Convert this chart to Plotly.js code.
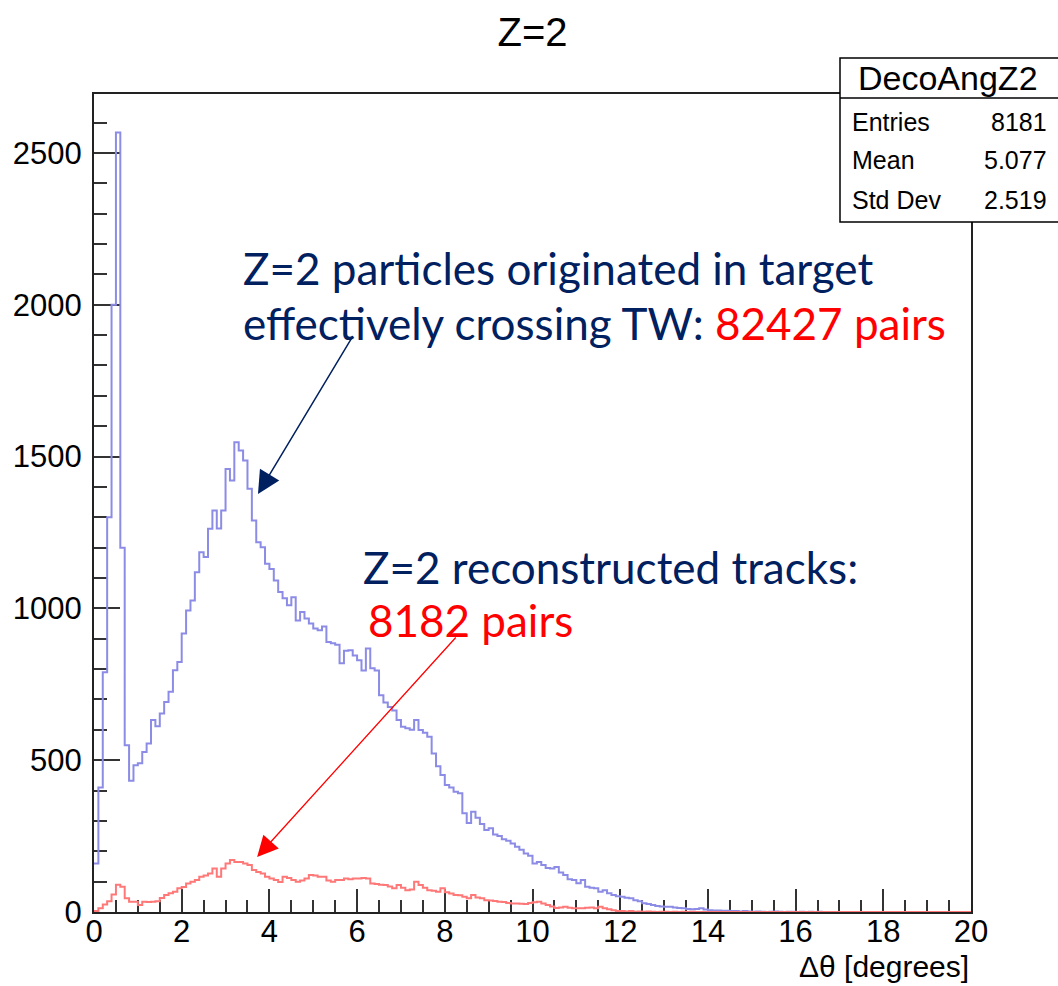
<!DOCTYPE html>
<html><head><meta charset="utf-8">
<script src="https://cdn.plot.ly/plotly-3.0.1.min.js"></script>
<style>html,body{margin:0;padding:0;background:#fff;} #chart{width:1058px;height:986px;}</style>
</head><body><div id="chart"></div>
<script>
// ---- data ----
const binWidth = 0.1;
const xMin = 0;
const blueCounts = [
 160,410,790,1300,2000,2567,1200,549,432,483,
 490,527,555,632,612,654,692,725,796,823,
 917,993,1026,1119,1185,1169,1262,1322,1263,1322,
 1459,1421,1547,1520,1487,1394,1289,1218,1201,1147,
 1130,1092,1054,1033,1010,1037,960,988,967,950,
 934,928,940,889,885,880,819,860,862,845,
 829,795,868,803,795,714,690,675,664,632,
 610,605,600,632,599,590,577,522,480,451,
 418,410,396,391,325,293,330,310,290,270,
 276,255,250,240,235,226,215,205,193,185,
 160,165,155,145,143,148,130,122,108,105,
 95,105,83,80,78,67,72,62,56,52,
 50,47,45,39,35,29,26,23,20,18,
 17,17,15,13,12,10,9,10,12,8,
 6,5,5,4,4,3,3,2,3,2,
 1,2,1,0,1,2,1,0,1,1,
 0,1,0,1,0,1,0,0,0,0,
 0,0,0,0,0,0,0,0,0,0,
 0,0,0,0,0,0,0,0,0,0,
 0,0,0,0,0,0,0,0,0,0
];
const redCounts = [
 3,12,25,35,58,90,83,45,34,34,
 23,34,33,34,35,46,56,62,67,78,
 82,94,100,105,116,120,127,143,116,143,
 160,171,165,165,160,155,138,132,127,116,
 110,105,99,116,112,105,100,104,110,122,
 120,116,116,104,100,105,105,110,108,110,
 110,112,110,94,92,90,89,84,78,89,
 80,72,74,100,89,80,72,70,67,78,
 65,61,56,55,50,45,56,48,45,39,
 38,36,34,33,30,28,28,27,26,30,
 32,34,28,23,18,13,15,17,14,12,
 12,12,14,15,12,17,12,9,6,3,
 3,2,3,1,2,1,2,1,0,1,
 1,0,1,0,1,0,1,0,0,0,
 0,0,0,0,0,0,0,0,0,0,
 0,0,0,0,0,0,0,0,0,0,
 0,0,0,0,0,0,0,0,0,0,
 0,0,0,0,0,0,0,0,0,0,
 0,0,0,0,0,0,0,0,0,0,
 0,0,0,0,0,0,0,0,0,0
];
const xTickVals = [0,2,4,6,8,10,12,14,16,18,20];
const yTickVals = [0,500,1000,1500,2000,2500];
const statsTitle = "DecoAngZ2";
const statsLabels = ["Entries","Mean","Std Dev"];
const statsValues = ["8181","5.077","2.519"];
const chartTitle = "Z=2";
const xTitle = "\u0394\u03b8 [degrees]";

// ---- build step outlines from bins ----
function binEdges(n){ const e=[]; for(let i=0;i<=n;i++) e.push(+(xMin+i*binWidth).toFixed(4)); return e; }
function stepVals(c){ return c.concat([c[c.length-1]]); }

const navy = '#002060';
const red = '#ff0000';
const FONT = 'Liberation Sans, Arial, Helvetica, sans-serif';
const TXT = 'Lato, Open Sans, sans-serif';

const traces = [
 {x: binEdges(blueCounts.length), y: stepVals(blueCounts), type:'scatter', mode:'lines',
  line:{shape:'hv', color:'rgb(140,140,230)', width:2}, hoverinfo:'skip'},
 {x: binEdges(redCounts.length), y: stepVals(redCounts), type:'scatter', mode:'lines',
  line:{shape:'hv', color:'rgb(255,120,120)', width:2}, hoverinfo:'skip'}
];

// paper coordinate helpers (plot area: l=94, t=94, w=877, h=818)
const L=94, T=94, W=877, H=818;
const px = v => (v-L)/W;
const py = v => (T+H-v)/H;

const annotations = [
 {xref:'paper', yref:'paper', x:px(241), y:py(268), xanchor:'left', yanchor:'middle', showarrow:false,
  text:'Z=2 particles originated in target', font:{family:TXT, size:44, color:navy}},
 {xref:'paper', yref:'paper', x:px(241), y:py(323), xanchor:'left', yanchor:'middle', showarrow:false,
  text:'effectively crossing TW: <span style="color:'+red+'">82427 pairs</span>', font:{family:TXT, size:44, color:navy}},
 {xref:'paper', yref:'paper', x:px(361), y:py(567), xanchor:'left', yanchor:'middle', showarrow:false,
  text:'Z=2 reconstructed tracks:', font:{family:TXT, size:44, color:navy}},
 {xref:'paper', yref:'paper', x:px(366), y:py(620), xanchor:'left', yanchor:'middle', showarrow:false,
  text:'8182 pairs', font:{family:TXT, size:44, color:red}},
 // arrows
 {xref:'x', yref:'y', x:3.74, y:1377, ax:95, ay:-158, text:'', showarrow:true,
  arrowhead:2, arrowsize:3, arrowwidth:1.5, arrowcolor:navy},
 {xref:'x', yref:'y', x:3.72, y:181, ax:200, ay:-221, text:'', showarrow:true,
  arrowhead:2, arrowsize:3.2, arrowwidth:1.3, arrowcolor:red},
 // x axis title
 {xref:'paper', yref:'paper', x:1, y:py(985), xanchor:'right', yanchor:'bottom', showarrow:false,
  text:xTitle, font:{family:FONT, size:30, color:'#000'}},
 // stats box text
 {xref:'paper', yref:'paper', x:px(948), y:py(78), xanchor:'center', yanchor:'middle', showarrow:false,
  text:statsTitle, font:{family:FONT, size:34, color:'#000'}}
];
const rowY = [122,160,200];
statsLabels.forEach((lab,i)=>{
 annotations.push({xref:'paper', yref:'paper', x:px(850), y:py(rowY[i]), xanchor:'left', yanchor:'middle', showarrow:false,
  text:lab, font:{family:FONT, size:25, color:'#000'}});
 annotations.push({xref:'paper', yref:'paper', x:px(1049), y:py(rowY[i]), xanchor:'right', yanchor:'middle', showarrow:false,
  text:statsValues[i], font:{family:FONT, size:25, color:'#000'}});
});

const shapes = [
 {type:'rect', xref:'paper', yref:'paper', x0:px(840), x1:px(1059), y0:py(58), y1:py(222),
  line:{color:'#000', width:1.5}, fillcolor:'#fff', layer:'above'},
 {type:'line', xref:'paper', yref:'paper', x0:px(840), x1:px(1059), y0:py(98), y1:py(98),
  line:{color:'#000', width:1.5}, layer:'above'}
];

const axisCommon = {
 showgrid:false, zeroline:false, showline:true, mirror:true, linecolor:'#222', linewidth:2,
 ticks:'inside', tickcolor:'#333', tickwidth:2, layer:'below traces',
 tickfont:{family:FONT, size:31, color:'#000'}
};

const layout = {
 width:1058, height:986, autosize:false,
 margin:{l:L, r:1058-L-W, t:T, b:986-T-H, pad:0},
 paper_bgcolor:'#fff', plot_bgcolor:'#fff', showlegend:false,
 title:{text:chartTitle, x:0.5, xref:'paper', xanchor:'center', y:1-32/986, yref:'container', yanchor:'middle',
  font:{family:FONT, size:40, color:'#000'}},
 xaxis:Object.assign({}, axisCommon, {range:[0,20], tickmode:'array', tickvals:xTickVals, ticklen:23,
  ticklabelstandoff:-9,
  minor:{dtick:0.5, tick0:0, ticks:'inside', ticklen:12, tickwidth:2, tickcolor:'#333', showgrid:false}}),
 yaxis:Object.assign({}, axisCommon, {range:[0,2694], tickmode:'array', tickvals:yTickVals, ticklen:26,
  ticklabelstandoff:4,
  minor:{dtick:100, tick0:0, ticks:'inside', ticklen:13, tickwidth:2, tickcolor:'#333', showgrid:false}}),
 annotations: annotations,
 shapes: shapes
};

Plotly.newPlot('chart', traces, layout, {staticPlot:true, displayModeBar:false});
</script>
</body></html>
